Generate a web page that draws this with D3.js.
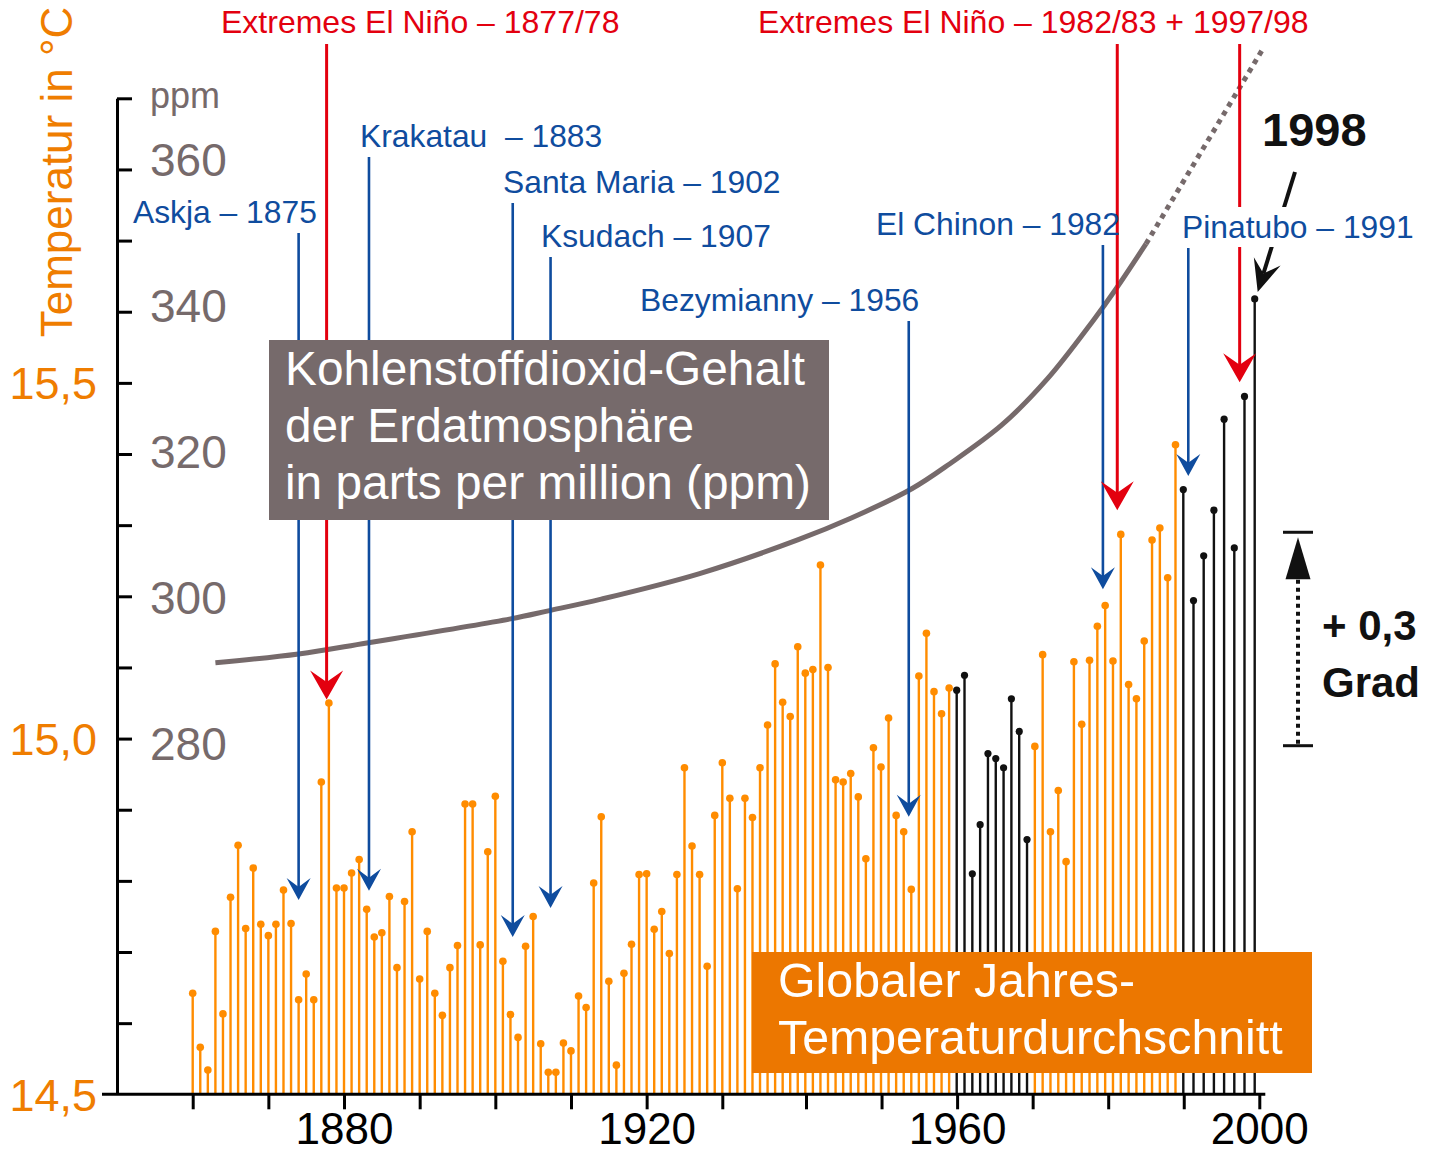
<!DOCTYPE html>
<html><head><meta charset="utf-8">
<script src="https://cdn.jsdelivr.net/npm/d3@7"></script>
<style>
html,body{margin:0;padding:0;background:#fff;}
svg{display:block;font-family:"Liberation Sans",Arial,sans-serif;}
</style></head><body>
<svg id="chart" width="1440" height="1153"></svg>
<script>
// ---------------- DATA ----------------
const years = d3.range(1860, 1998); // one stem per year as drawn
const temps = [
14.642,14.566,14.534,14.729,14.613,14.777,14.850,14.733,14.818,14.739,
14.723,14.739,14.787,14.740,14.633,14.669,14.633,14.939,15.050,14.790,
14.790,14.811,14.830,14.760,14.721,14.727,14.778,14.678,14.771,14.869,
14.662,14.729,14.642,14.611,14.678,14.709,14.908,14.908,14.710,14.841,
14.919,14.687,14.612,14.580,14.708,14.750,14.571,14.531,14.531,14.572,
14.561,14.638,14.622,14.797,14.890,14.659,14.541,14.670,14.711,14.809,
14.810,14.732,14.757,14.698,14.809,14.959,14.849,14.809,14.680,14.892,
14.966,14.916,14.789,14.916,14.889,14.959,15.019,15.105,15.051,15.031,
15.129,15.092,15.097,15.244,15.100,14.942,14.939,14.951,14.918,14.831,
14.987,14.960,15.029,14.892,14.869,14.788,15.088,15.148,15.066,15.035,
15.071,15.068,15.089,14.810,14.879,14.979,14.972,14.959,15.056,15.010,
14.858,14.989,15.118,14.869,14.927,14.827,15.108,15.020,15.110,15.158,
15.187,15.109,15.287,15.076,15.056,15.137,15.279,15.296,15.226,15.413,
15.350,15.194,15.257,15.321,15.449,15.268,15.481,15.618];
const blackPeriods = [[1961, 1970], [1990, 1997]];

const co2Years = [1863, 1874, 1883, 1902, 1907, 1914, 1927, 1939, 1946, 1954, 1959, 1966, 1972, 1978, 1981, 1985];
const co2Ppm   = [291.1, 292.3, 293.8, 297.1, 298.2, 299.8, 303.3, 307.9, 310.9, 314.9, 318.3, 323.7, 330.0, 337.9, 342.2, 348.4];
const co2ProjYears = [1985, 2000.6];
const co2ProjPpm   = [348.4, 375.3];

const xTickYears  = d3.range(1860, 2001, 10);
const xLabelYears = [1880, 1920, 1960, 2000];
const tempTicks   = d3.range(146, 160).map(d => d / 10);
const tempLabels  = [14.5, 15.0, 15.5];
const ppmLabels   = [280, 300, 320, 340, 360];

const volcanoNames  = ["Askja – 1875", "Krakatau  – 1883", "Santa Maria – 1902", "Ksudach – 1907", "Bezymianny – 1956", "El Chinon – 1982", "Pinatubo – 1991"];
const volcanoArrowYears = [1874.0, 1883.3, 1902.3, 1907.3, 1953.6, 1979.3, 1990.6];
const volcanoTipTemps   = [14.773, 14.786, 14.721, 14.762, 14.890, 15.210, 15.369];

const ninoTitles = ["Extremes El Niño – 1877/78", "Extremes El Niño – 1982/83 + 1997/98"];
const ninoArrowYears = [1877.7, 1981.2, 1997.4];
const ninoTipTemps   = [15.055, 15.321, 15.501];

const bracketTemps = [14.99, 15.29];

// ---------------- LAYOUT ----------------
const ORANGE = "#FF8C00", ORANGE_TXT = "#EF7D00", BOX_OR = "#EC7700";
const GREY = "#766a6b", BLUE = "#0F4C9E", RED = "#E3000F", BLACK = "#111";
const volcLabelPos = [[133,223],[360,147],[503,193],[541,247],[640,311],[876,235],[1182,238]];
const ninoLabelPos = [[221,33],[758,33]];
const axisX = 117;

const svg = d3.select("#chart");
const yT   = d3.scaleLinear().domain([14.5, 15.9]).range([1094.3, 98.3]);
const yPpm = d3.scaleLinear().domain([280, 360]).range([743.9, 159.1]);
const xYear = d3.scaleLinear().domain([1860, 1930, 1940, 2000]).range([192.7, 722.3, 806, 1259.3]);
const xStem = d3.scaleLinear().domain([1860, 1930, 1941, 1961, 1990, 1997]).range([192.7, 722.3, 805.3, 956.7, 1183.3, 1254.7]);
const de = d3.formatLocale({decimal: ",", thousands: ".", grouping: [3], currency: ["", "€"]});
const f1 = de.format(".1f");

// ---------------- STEMS ----------------
const stemData = years.map((yr, i) => ({year: yr, temp: temps[i],
  black: blackPeriods.some(([a, b]) => yr >= a && yr <= b)}));
const gS = svg.append("g");
gS.selectAll("line").data(stemData).join("line")
  .attr("x1", d => xStem(d.year)).attr("x2", d => xStem(d.year))
  .attr("y1", yT(14.5)).attr("y2", d => yT(d.temp))
  .attr("stroke", d => d.black ? BLACK : ORANGE).attr("stroke-width", 2.4);
gS.selectAll("circle").data(stemData).join("circle")
  .attr("cx", d => xStem(d.year)).attr("cy", d => yT(d.temp))
  .attr("r", d => d.black ? 3.6 : 3.8)
  .attr("fill", d => d.black ? BLACK : ORANGE);

// orange legend box
const ob = svg.append("g");
ob.append("rect").attr("x", 752).attr("y", 952).attr("width", 560).attr("height", 121).attr("fill", BOX_OR);
ob.append("text").attr("x", 778).attr("y", 997).attr("fill", "#fff").attr("font-size", 48.3).text("Globaler Jahres-");
ob.append("text").attr("x", 778).attr("y", 1054).attr("fill", "#fff").attr("font-size", 48.3).text("Temperaturdurchschnitt");

// ---------------- AXES ----------------
const gy = svg.append("g").attr("transform", `translate(${axisX},0)`)
  .call(d3.axisRight(yT).tickValues(tempTicks).tickSize(15).tickSizeOuter(0).tickFormat(""));
gy.select(".domain").attr("stroke", "#000").attr("stroke-width", 3);
gy.selectAll(".tick line").attr("stroke", "#000").attr("stroke-width", 3);

const gx = svg.append("g").attr("transform", `translate(0,${yT(14.5)})`)
  .call(d3.axisBottom(xYear).tickValues(xTickYears).tickSize(15).tickSizeOuter(0).tickPadding(3)
    .tickFormat(d => xLabelYears.includes(d) ? d : ""));
gx.select(".domain").remove();
gx.selectAll(".tick line").attr("stroke", "#000").attr("stroke-width", 3);
gx.selectAll(".tick text").attr("font-size", 44).attr("fill", "#000").attr("font-family", '"Liberation Sans",Arial,sans-serif');
gx.append("line").attr("x1", axisX - 15).attr("x2", xYear(2000) + 6).attr("y1", 0).attr("y2", 0)
  .attr("stroke", "#000").attr("stroke-width", 3);

svg.append("g").selectAll("text").data(tempLabels).join("text")
  .attr("x", axisX - 20).attr("y", d => yT(d)).attr("dy", "0.36em")
  .attr("text-anchor", "end").attr("font-size", 45).attr("fill", ORANGE_TXT).text(d => f1(d));
svg.append("g").selectAll("text").data(ppmLabels).join("text")
  .attr("x", axisX + 33).attr("y", d => yPpm(d)).attr("dy", "0.36em")
  .attr("font-size", 46).attr("fill", GREY).text(d => d);
svg.append("text").attr("x", axisX + 33).attr("y", 108).attr("font-size", 36).attr("fill", GREY).text("ppm");
svg.append("text").attr("transform", "translate(72,172) rotate(-90)").attr("text-anchor", "middle")
  .attr("font-size", 44).attr("fill", ORANGE_TXT).text("Temperatur in °C");

// ---------------- CO2 CURVE ----------------
const co2Line = d3.line().x(d => xYear(d[0])).y(d => yPpm(d[1])).curve(d3.curveCatmullRom.alpha(0.5));
svg.append("path").datum(co2Years.map((y, i) => [y, co2Ppm[i]]))
  .attr("d", co2Line).attr("fill", "none").attr("stroke", GREY).attr("stroke-width", 5);
svg.append("path").datum(co2ProjYears.map((y, i) => [y, co2ProjPpm[i]]))
  .attr("d", d3.line().x(d => xYear(d[0])).y(d => yPpm(d[1])))
  .attr("fill", "none").attr("stroke", GREY).attr("stroke-width", 5).attr("stroke-dasharray", "5,5");

// ---------------- ANNOTATION ARROWS ----------------
function head(x, tip, w, L) {
  return `M${x},${tip} L${x - w / 2},${tip - L} L${x},${tip - L * 0.6} L${x + w / 2},${tip - L} Z`;
}
const gA = svg.append("g");
volcanoNames.forEach((n, i) => {
  const x = xYear(volcanoArrowYears[i]), tip = yT(volcanoTipTemps[i]);
  gA.append("line").attr("x1", x).attr("x2", x).attr("y1", volcLabelPos[i][1] + 10).attr("y2", tip - 10)
    .attr("stroke", BLUE).attr("stroke-width", 2.6);
  gA.append("path").attr("d", head(x, tip, 24, 22)).attr("fill", BLUE);
});
ninoArrowYears.forEach((yr, i) => {
  const x = xYear(yr), tip = yT(ninoTipTemps[i]);
  gA.append("line").attr("x1", x).attr("x2", x).attr("y1", 44).attr("y2", tip - 14)
    .attr("stroke", RED).attr("stroke-width", 3);
  gA.append("path").attr("d", head(x, tip, 33, 29)).attr("fill", RED);
});

// CO2 box
const cb = svg.append("g");
cb.append("rect").attr("x", 269).attr("y", 340).attr("width", 560).attr("height", 180).attr("fill", GREY);
["Kohlenstoffdioxid-Gehalt", "der Erdatmosphäre", "in parts per million (ppm)"].forEach((t, i) =>
  cb.append("text").attr("x", 285).attr("y", 385 + i * 57).attr("fill", "#fff").attr("font-size", 47.8).text(t));

// 1998 arrow
const last = stemData[stemData.length - 1];
const tipX = xStem(last.year) + 3, tipY = yT(last.temp) - 7;
const sx = 1295, sy = 172;
const ang = Math.atan2(tipY - sy, tipX - sx);
const hl = 32, hw = 14;
const bx = tipX - hl * Math.cos(ang), by = tipY - hl * Math.sin(ang);
const nx = tipX - hl * 0.6 * Math.cos(ang), ny = tipY - hl * 0.6 * Math.sin(ang);
svg.append("line").attr("x1", sx).attr("y1", sy).attr("x2", nx).attr("y2", ny)
  .attr("stroke", BLACK).attr("stroke-width", 4);
svg.append("path").attr("fill", BLACK).attr("d",
  `M${tipX},${tipY} L${bx + hw * Math.sin(ang)},${by - hw * Math.cos(ang)} L${nx},${ny} L${bx - hw * Math.sin(ang)},${by + hw * Math.cos(ang)} Z`);
svg.append("text").attr("x", 1262).attr("y", 146).attr("font-size", 47).attr("font-weight", "bold").attr("fill", BLACK).text("1998");

// ---------------- LABELS ----------------
const gL = svg.append("g");
volcanoNames.forEach((n, i) => {
  const t = gL.append("text").attr("x", volcLabelPos[i][0]).attr("y", volcLabelPos[i][1])
    .attr("font-size", 31.8).attr("fill", BLUE).attr("xml:space", "preserve").style("white-space", "pre").text(n);
  if (i === 6) {
    const bb = t.node().getBBox();
    gL.insert("rect", "text:last-child").attr("x", bb.x - 4).attr("y", bb.y - 2).attr("width", bb.width + 8).attr("height", bb.height + 4).attr("fill", "#fff");
  }
});
ninoTitles.forEach((n, i) => gL.append("text").attr("x", ninoLabelPos[i][0]).attr("y", ninoLabelPos[i][1])
  .attr("font-size", 32).attr("fill", RED).text(n));

// +0,3 bracket
const bxp = 1298, yb = yT(bracketTemps[0]), yt = yT(bracketTemps[1]);
const gb = svg.append("g").attr("stroke", BLACK);
gb.append("line").attr("x1", bxp - 15).attr("x2", bxp + 15).attr("y1", yb).attr("y2", yb).attr("stroke-width", 3);
gb.append("line").attr("x1", bxp - 15).attr("x2", bxp + 15).attr("y1", yt).attr("y2", yt).attr("stroke-width", 3);
gb.append("line").attr("x1", bxp).attr("x2", bxp).attr("y1", yb - 2).attr("y2", yt + 44).attr("stroke-width", 4).attr("stroke-dasharray", "4,4");
svg.append("path").attr("fill", BLACK).attr("d", `M${bxp},${yt + 5} L${bxp - 12.5},${yt + 47} L${bxp + 12.5},${yt + 47} Z`);
svg.append("text").attr("x", 1322).attr("y", 640).attr("font-size", 42).attr("font-weight", "bold").attr("fill", BLACK).text("+ 0,3");
svg.append("text").attr("x", 1322).attr("y", 697).attr("font-size", 42).attr("font-weight", "bold").attr("fill", BLACK).text("Grad");
</script>
</body></html>
